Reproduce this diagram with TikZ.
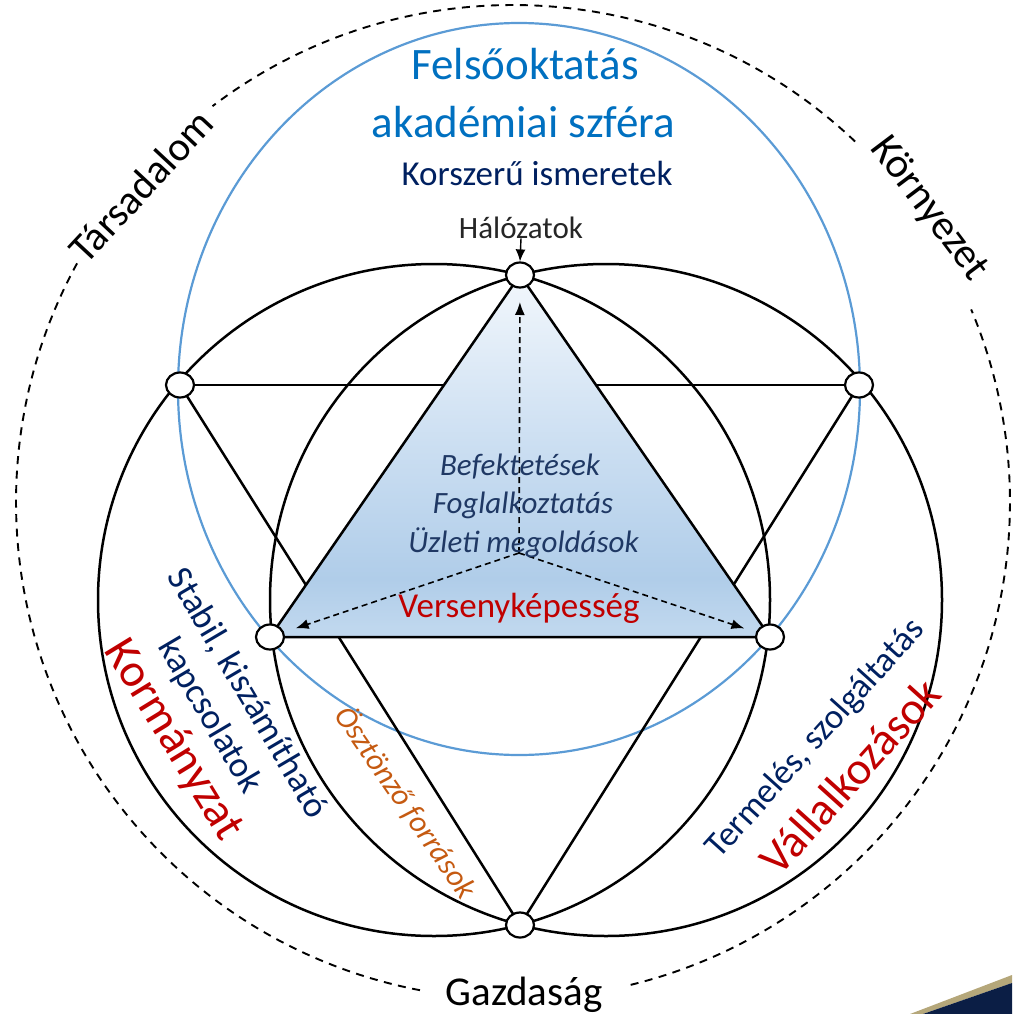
\documentclass[tikz,border=0pt]{standalone}
\usepackage{fontspec}
\setmainfont{Carlito}
\usetikzlibrary{shapes.geometric,arrows.meta}
\definecolor{blueT}{HTML}{0070C0}
\definecolor{navy}{HTML}{002060}
\definecolor{navyI}{HTML}{1F3864}
\definecolor{redT}{HTML}{C00000}
\definecolor{orangeT}{HTML}{C55A11}
\definecolor{blueC}{HTML}{5B9BD5}
\definecolor{grayT}{HTML}{262626}
\definecolor{triB}{HTML}{C2D9EF}
\definecolor{triD}{HTML}{B0CDE9}
\definecolor{triM}{HTML}{C9DDF1}
\definecolor{triT}{HTML}{F2F7FC}
\definecolor{tanC}{HTML}{B5A77A}
\definecolor{navyD}{HTML}{0B1E45}
\pgfdeclareverticalshading{trishade}{100bp}{color(0bp)=(triB); color(25bp)=(triB); color(33bp)=(triD); color(50bp)=(triM); color(75bp)=(triT); color(100bp)=(triT)}
\tikzset{
  blk/.style={line width=2.5pt, black},
  dashcirc/.style={line width=1.9pt, dash pattern=on 8pt off 6.5pt},
  vertex/.style={ellipse, draw, fill=white, line width=2.2pt, minimum width=28pt, minimum height=25pt, inner sep=0pt},
  darrow/.style={line width=1.6pt, dash pattern=on 6pt off 4pt, -{Latex[length=13pt,width=10pt]}, shorten >=27pt},
  lbl/.style={inner sep=0pt},
}
\begin{document}
\begin{tikzpicture}[x=1pt,y=-1pt]
\useasboundingbox (0,0) rectangle (1012,1014);
% outer dashed circle with gaps
\coordinate (oc) at (513,502);
\draw[dashcirc] (oc) ++(151.3:497pt) arc[start angle=151.3, end angle=259.3, radius=497pt];
\draw[dashcirc] (oc) ++(283.7:497pt) arc[start angle=283.7, end angle=382.8, radius=497pt];
\draw[dashcirc] (oc) ++(46.5:497pt) arc[start angle=46.5, end angle=127.2, radius=497pt];
% blue ellipse
\draw[blueC, line width=2.2pt] (519,389) ellipse[x radius=341pt, y radius=366pt];
% two black circles
\draw[blk] (434,600) circle[radius=336pt];
\draw[blk] (606,600) circle[radius=336pt];
% vertices
\coordinate (p1) at (520,275);
\coordinate (p2) at (180,385);
\coordinate (p3) at (859,385);
\coordinate (p4) at (270,637);
\coordinate (p5) at (770,637);
\coordinate (p6) at (520,925);
\coordinate (c) at (519,553);
% downward triangle
\draw[blk] (p2) -- (p3);
\draw[blk] (p2) -- (p6);
\draw[blk] (p3) -- (p6);
% upward triangle, shaded
\draw[blk, shading=trishade] (p1) -- (p4) -- (p5) -- cycle;
% dashed arrows
\draw[darrow] (c) -- (p1);
\draw[darrow] (c) -- (p4);
\draw[darrow] (c) -- (p5);
% texts
\node[lbl, anchor=base, text=blueT, font=\fontsize{45}{54}\selectfont] (t1) at (525,80) {Felsőoktatás};
\node[lbl, anchor=base, text=blueT, font=\fontsize{45}{54}\selectfont] (t2) at (523.5,137) {akadémiai szféra};
\node[lbl, anchor=base, text=navy, font=\fontsize{35}{42}\selectfont] (t3) at (537,185) {Korszerű ismeretek};
\node[lbl, anchor=base, text=grayT, font=\fontsize{31}{37}\selectfont] (hal) at (521,238) {Hálózatok};
\node[lbl, anchor=base, text=navyI, font=\itshape\fontsize{31}{37}\selectfont] (i1) at (520,475) {Befektetések};
\node[lbl, anchor=base, text=navyI, font=\itshape\fontsize{31}{37}\selectfont] (i2) at (523,513) {Foglalkoztatás};
\node[lbl, anchor=base, text=navyI, font=\itshape\fontsize{31}{37}\selectfont] (i3) at (523.5,552) {Üzleti megoldások};
\node[lbl, anchor=base, text=redT, font=\fontsize{35}{42}\selectfont] (vk) at (519,617) {Versenyképesség};
\node[lbl, rotate=47, font=\fontsize{41}{49}\selectfont] (tars) at (141,186) {Társadalom};
\node[lbl, rotate=-53, font=\fontsize{42}{50}\selectfont] (korny) at (929,209) {Környezet};
\node[lbl, anchor=base, font=\fontsize{41}{49}\selectfont] (gazd) at (524,1005) {Gazdaság};
\node[lbl, rotate=-59.5, text=navy, align=center, font=\fontsize{36}{44}\selectfont] (stab) at (228,705) {Stabil, kiszámítható\\kapcsolatok};
\node[lbl, rotate=-58.5, text=redT, font=\fontsize{47}{56}\selectfont] (korm) at (173,740) {Kormányzat};
\node[lbl, rotate=-55.5, text=orangeT, font=\itshape\fontsize{31}{37}\selectfont] (oszt) at (406,802) {Ösztönző források};
\node[lbl, rotate=48, text=navy, font=\fontsize{35}{42}\selectfont] (term) at (816,739) {Termelés, szolgáltatás};
\node[lbl, rotate=48, text=redT, font=\fontsize{46}{55}\selectfont] (vall) at (850,776) {Vállalkozások};
% vertex nodes
\node[vertex] (n1) at (p1) {};
\node[vertex] (n2) at (p2) {};
\node[vertex] (n3) at (p3) {};
\node[vertex] (n4) at (p4) {};
\node[vertex] (n5) at (p5) {};
\node[vertex] (n6) at (p6) {};
% Hálózatok arrow
\draw[line width=1.4pt, -{Latex[length=12pt,width=10pt]}] (hal.south) -- (n1.north);
% corner decoration
\fill[tanC] (910,1014) -- (1012,975) -- (1012,983) -- (923,1014) -- cycle;
\fill[navyD] (923,1014) -- (1012,983) -- (1012,1014) -- cycle;
\end{tikzpicture}
\end{document}
